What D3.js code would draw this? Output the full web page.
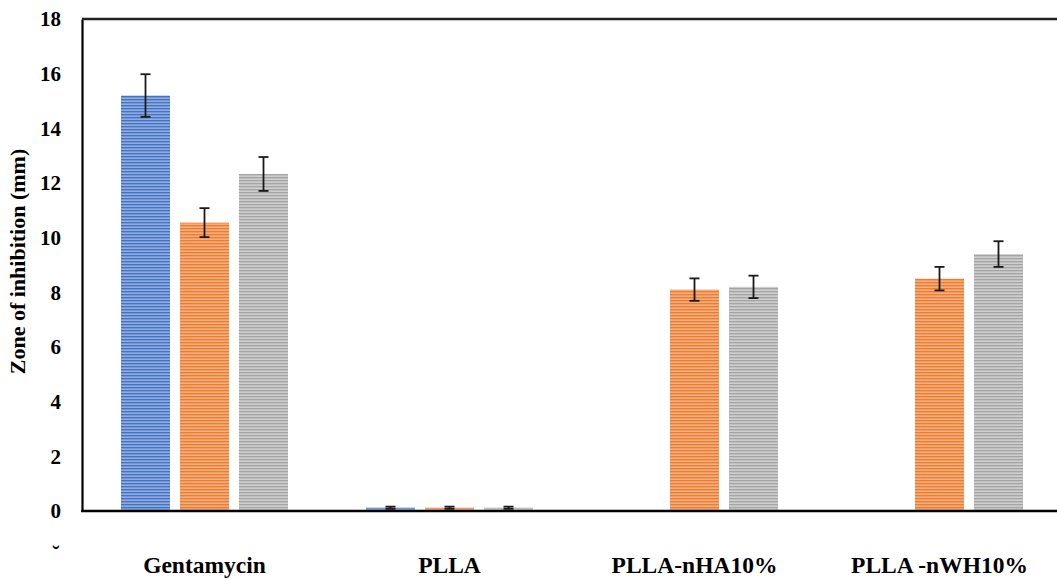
<!DOCTYPE html>
<html>
<head>
<meta charset="utf-8">
<script src="https://cdn.jsdelivr.net/npm/d3@7"></script>
<style>
  body { margin: 0; background: #fff; }
  svg text { font-family: "Liberation Serif", "Times New Roman", serif; font-weight: bold; fill: #000; }
</style>
</head>
<body>
<div id="chart"></div>
<script>
// data
const categories = ["Gentamycin", "PLLA", "PLLA-nHA10%", "PLLA -nWH10%"];
const seriesNames = ["s1", "s2", "s3"];
const s1Values = [15.2, 0.12, null, null];
const s2Values = [10.55, 0.12, 8.1, 8.5];
const s3Values = [12.33, 0.12, 8.2, 9.4];
const s1Errors = [0.78, 0.04, null, null];
const s2Errors = [0.53, 0.04, 0.41, 0.43];
const s3Errors = [0.62, 0.04, 0.41, 0.47];
const yTicks = [0, 2, 4, 6, 8, 10, 12, 14, 16, 18];

const W = 1057, H = 580;
const plotLeft = 82, plotTop = 19, plotBottom = 511;

const svg = d3.select("#chart").append("svg")
    .attr("width", W)
    .attr("height", H);

// stripe patterns
const colors = {
    s1: {base: "#4472C4", light: "#A3BAE4"},
    s2: {base: "#ED7D31", light: "#F7BA92"},
    s3: {base: "#A5A5A5", light: "#D9D9D9"}
};
const defs = svg.append("defs");
seriesNames.forEach(s => {
    const p = defs.append("pattern")
        .attr("id", "pat-" + s)
        .attr("patternUnits", "userSpaceOnUse")
        .attr("width", 10)
        .attr("height", 3);
    p.append("rect").attr("width", 10).attr("height", 3).attr("fill", colors[s].base);
    p.append("rect").attr("y", 1.5).attr("width", 10).attr("height", 1.3).attr("fill", colors[s].light);
});

const y = d3.scaleLinear().domain([0, 18]).range([plotBottom, plotTop]);

const x0 = d3.scaleBand()
    .domain(categories)
    .range([plotLeft, plotLeft + 245 * categories.length])
    .padding(0);

const x1 = d3.scaleBand()
    .domain(seriesNames)
    .range([0, 167])
    .paddingInner(10 / 59)
    .paddingOuter(0);

const groupOffset = (x0.bandwidth() - 167) / 2;

const rows = [];
categories.forEach((c, i) => {
    [[s1Values, s1Errors], [s2Values, s2Errors], [s3Values, s3Errors]].forEach((pair, j) => {
        if (pair[0][i] != null) {
            rows.push({cat: c, series: seriesNames[j], value: pair[0][i], err: pair[1][i]});
        }
    });
});

// bars
svg.append("g").selectAll("rect")
    .data(rows)
    .enter().append("rect")
    .attr("x", d => x0(d.cat) + groupOffset + x1(d.series))
    .attr("width", x1.bandwidth())
    .attr("y", d => y(d.value))
    .attr("height", d => y(0) - y(d.value))
    .attr("fill", d => "url(#pat-" + d.series + ")");

// error bars
const eb = svg.append("g").attr("stroke", "#1a1a1a").attr("stroke-width", 1.8);
rows.forEach(d => {
    const cx = x0(d.cat) + groupOffset + x1(d.series) + x1.bandwidth() / 2;
    const y1 = y(d.value + d.err), y2 = y(d.value - d.err);
    eb.append("line").attr("x1", cx).attr("x2", cx).attr("y1", y1).attr("y2", y2);
    eb.append("line").attr("x1", cx - 5).attr("x2", cx + 5).attr("y1", y1).attr("y2", y1);
    eb.append("line").attr("x1", cx - 5).attr("x2", cx + 5).attr("y1", y2).attr("y2", y2);
});

// y axis
const yAxis = svg.append("g")
    .attr("transform", `translate(${plotLeft},0)`)
    .call(d3.axisLeft(y).tickValues(yTicks).tickSize(0).tickSizeOuter(0).tickPadding(21));
yAxis.select(".domain").attr("stroke", "#000").attr("stroke-width", 2.2);
yAxis.selectAll("text").style("font-size", "21px");

// top border and bottom axis line
svg.append("line")
    .attr("x1", plotLeft).attr("x2", W).attr("y1", y(18)).attr("y2", y(18))
    .attr("stroke", "#222").attr("stroke-width", 2.4);
svg.append("line")
    .attr("x1", plotLeft - 1).attr("x2", W).attr("y1", y(0)).attr("y2", y(0))
    .attr("stroke", "#000").attr("stroke-width", 2.4);

// category labels
svg.append("g").selectAll("text")
    .data(categories)
    .enter().append("text")
    .attr("x", d => x0(d) + x0.bandwidth() / 2)
    .attr("y", 573)
    .attr("text-anchor", "middle")
    .style("font-size", "23.5px")
    .text(d => d);

// y axis title
svg.append("text")
    .attr("transform", `translate(25, ${(148 + 375) / 2}) rotate(-90)`)
    .attr("text-anchor", "middle")
    .style("font-size", "22px")
    .text("Zone of inhibition (mm)");

// cropped leftover mark under the 0 label
svg.append("text")
    .attr("x", 56)
    .attr("y", 561)
    .attr("text-anchor", "middle")
    .style("font-size", "22px")
    .text("˘");
</script>
</body>
</html>
